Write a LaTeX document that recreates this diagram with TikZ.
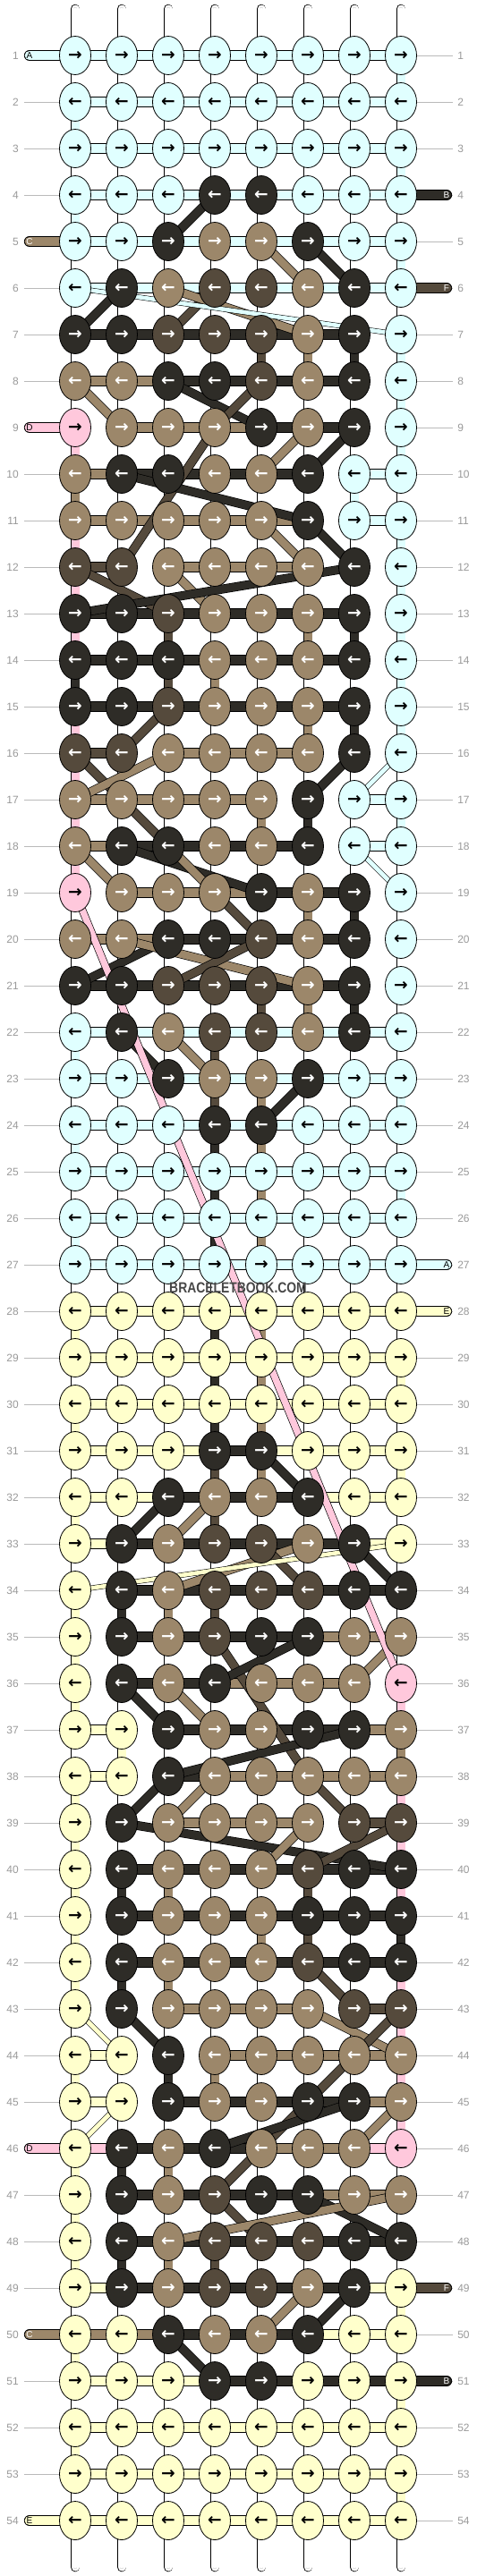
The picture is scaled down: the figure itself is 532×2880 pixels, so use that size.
\documentclass[tikz,border=0pt]{standalone}
\usepackage{fontspec}
\usepackage{graphicx}
\setmainfont{Liberation Sans}
\newfontfamily\arrowfont{DejaVu Sans}
\usetikzlibrary{shapes.geometric}
\pgfdeclarelayer{background}
\pgfsetlayers{background,main}

\definecolor{colc}{RGB}{224,255,255}
\definecolor{coly}{RGB}{255,255,204}
\definecolor{colk}{RGB}{46,44,39}
\definecolor{colt}{RGB}{156,135,106}
\definecolor{colb}{RGB}{85,74,60}
\definecolor{colp}{RGB}{255,200,220}
\colorlet{txtc}{black}
\colorlet{txty}{black}
\colorlet{txtp}{black}
\colorlet{txtk}{white}
\colorlet{txtt}{white}
\colorlet{txtb}{white}

\tikzset{
  knot/.style={ellipse, draw=black, line width=0.6pt, minimum width=26.25pt,
    minimum height=32.25pt, inner sep=0pt, fill=col#1, text=txt#1,
    font=\arrowfont\bfseries\fontsize{14}{14}\selectfont},
  tube/.style={draw=black, double=white, double distance=6.75pt, line width=0.6pt, line cap=round},
  tubeline/.style={draw=black!22, double=white, double distance=2.4pt, line width=0.5pt, line cap=round},
  vband/.style={draw=black, double=col#1, double distance=6.75pt, line width=0.6pt},
  hband/.style={draw=black, double=col#1, double distance=8pt, line width=0.6pt},
  diag/.style={draw=black, double=col#1, double distance=6.5pt, line width=0.5pt},
  thindiag/.style={draw=black, double=col#1, double distance=3.5pt, line width=0.4pt},
  tail/.style={hband=#1, line cap=round},
  tailtext/.style={inner sep=0pt, text=txt#1, font=\fontsize{7.5}{7.5}\selectfont},
  rowno/.style={inner sep=0pt, text=black!40, font=\fontsize{9}{9}\selectfont},
  rowline/.style={draw=black!27, line width=0.6pt}
}

\begin{document}
\begin{tikzpicture}[x=0.75pt,y=-0.75pt]
\useasboundingbox (0,0) rectangle (532,2880);

% knots, row by row
\foreach \r/\ka/\kb/\kc/\kd/\ke/\kf/\kg/\kh in {
  1/c/c/c/c/c/c/c/c, 2/c/c/c/c/c/c/c/c, 3/c/c/c/c/c/c/c/c, 4/c/c/c/k/k/c/c/c,
  5/c/c/k/t/t/k/c/c, 6/c/k/t/b/b/t/k/c, 7/k/k/b/b/b/t/k/c, 8/t/t/k/k/b/t/k/c,
  9/p/t/t/t/k/t/k/c, 10/t/k/k/t/t/k/c/c, 11/t/t/t/t/t/k/c/c, 12/b/b/t/t/t/t/k/c,
  13/k/k/b/t/t/t/k/c, 14/k/k/k/t/t/t/k/c, 15/k/k/b/t/t/t/k/c, 16/b/b/t/t/t/t/k/c,
  17/t/t/t/t/t/k/c/c, 18/t/k/k/t/t/k/c/c, 19/p/t/t/t/k/t/k/c, 20/t/t/k/k/b/t/k/c,
  21/k/k/b/b/b/t/k/c, 22/c/k/t/b/b/t/k/c, 23/c/c/k/t/t/k/c/c, 24/c/c/c/k/k/c/c/c,
  25/c/c/c/c/c/c/c/c, 26/c/c/c/c/c/c/c/c, 27/c/c/c/c/c/c/c/c,
  28/y/y/y/y/y/y/y/y, 29/y/y/y/y/y/y/y/y, 30/y/y/y/y/y/y/y/y, 31/y/y/y/k/k/y/y/y,
  32/y/y/k/t/t/k/y/y, 33/y/k/t/b/b/t/k/y, 34/y/k/t/b/b/b/k/k, 35/y/k/t/b/k/k/t/t,
  36/y/k/t/k/t/t/t/p, 37/y/y/k/t/t/k/k/t, 38/y/y/k/t/t/t/t/t, 39/y/k/t/t/t/t/b/b,
  40/y/k/t/t/t/b/k/k, 41/y/k/t/t/t/k/k/k, 42/y/k/t/t/t/b/k/k, 43/y/k/t/t/t/t/b/b,
  44/y/y/k/t/t/t/t/t, 45/y/y/k/t/t/k/k/t, 46/y/k/t/k/t/t/t/p, 47/y/k/t/b/k/k/t/t,
  48/y/k/t/b/b/b/k/k, 49/y/k/t/b/b/t/k/y, 50/y/y/k/t/t/k/y/y, 51/y/y/y/k/k/y/y/y,
  52/y/y/y/y/y/y/y/y, 53/y/y/y/y/y/y/y/y, 54/y/y/y/y/y/y/y/y}{
  \ifodd\r\def\arr{→}\else\def\arr{←}\fi
  \foreach \n/\k in {1/\ka,2/\kb,3/\kc,4/\kd,5/\ke,6/\kf,7/\kg,8/\kh}
    \node[knot=\k] (k\r-\n) at ({32+52*\n},{10+52*\r}) {\arr};
}

% row numbers
\foreach \r in {1,...,54}{
  \node[rowno, anchor=east] (ln\r) at (21,{10+52*\r}) {\r};
  \node[rowno, anchor=west] (rn\r) at (511,{10+52*\r}) {\r};
}

% loose ends with their letters
\foreach \r/\v/\sname in {1/c/A, 5/t/C, 9/p/D, 46/p/D, 50/t/C, 54/y/E}
  \node[tailtext=\v] (tl\r) at (33,{10+52*\r}) {\sname};
\foreach \r/\v/\sname in {4/k/B, 6/b/F, 27/c/A, 28/y/E, 49/b/F, 51/k/B}
  \node[tailtext=\v] (tr\r) at (499,{10+52*\r}) {\sname};

\node[font=\bfseries\fontsize{12.4}{12.4}\selectfont, text=black!72, inner sep=0pt]
  (mark) at (266,1440) {\scalebox{0.84}[1]{BRACELETBOOK.COM}};

\begin{pgfonlayer}{background}
% grey guide lines
\foreach \r in {1,...,54}{
  \draw[rowline] (ln\r.east) ++(5.5,0) -- (k\r-1.west);
  \draw[rowline] (rn\r.west) ++(-5.5,0) -- (k\r-8.east);
}
% white strings
\foreach \n in {1,...,8}{
  \coordinate (top\n) at ({32+52*\n},10);
  \coordinate (bot\n) at ({32+52*\n},2870);
  \draw[tube] (top\n) -- (k1-\n.center);
  \draw[tubeline] (top\n) -- (k1-\n.center);
  \draw[tube] (k54-\n.center) -- (bot\n);
  \draw[tubeline] (k54-\n.center) -- (bot\n);
}
\foreach \r in {1,...,53}{
  \pgfmathtruncatemacro\s{\r+1}
  \foreach \n in {1,...,8}{
    \draw[tube] (k\r-\n.center) -- (k\s-\n.center);
    \draw[tubeline] (k\r-\n.center) -- (k\s-\n.center);
  }
}
% coloured strings going straight down
\foreach \r/\n/\v in {1/8/c, 2/1/c, 3/8/c, 4/1/c, 5/8/c,
  7/5/b, 7/6/t, 7/7/k, 7/8/c, 8/8/c, 9/1/p, 9/8/c, 10/1/t, 10/7/c,
  11/1/p, 11/8/c, 12/1/p, 12/8/c, 13/1/p, 13/3/b, 13/6/t, 13/7/k, 13/8/c,
  14/1/k, 14/3/b, 14/4/t, 14/8/c, 15/1/p, 15/6/t, 15/7/k, 15/8/c, 16/1/p,
  17/1/p, 17/5/t, 17/6/k, 17/8/c, 18/1/p, 19/6/t, 19/7/k,
  21/5/b, 21/6/t, 21/7/k, 22/1/c, 22/4/b, 23/4/b, 23/5/t, 23/8/c,
  24/1/c, 24/4/k, 24/5/t, 25/4/k, 25/5/t, 25/8/c, 26/1/c, 26/4/k, 26/5/t,
  28/1/y, 28/4/k, 28/5/t, 29/4/k, 29/5/t, 29/8/y, 30/1/y, 30/4/k, 30/5/t,
  31/4/b, 31/5/t, 31/8/y, 32/1/y, 32/4/b, 34/1/y, 34/2/k, 34/3/t, 34/4/b,
  35/1/y, 36/1/y, 36/8/p, 37/2/y, 37/8/t, 38/1/y, 38/8/p, 39/1/y, 39/8/p,
  40/1/y, 40/2/k, 40/3/t, 40/6/b, 40/8/p, 41/1/y, 41/5/t, 41/6/b, 41/8/k,
  42/1/y, 42/2/k, 42/3/t, 42/8/p, 43/8/p, 44/1/y, 44/3/k, 44/4/t, 44/8/p,
  45/8/p, 46/1/y, 46/2/k, 46/3/t, 47/1/y, 48/1/y, 48/2/k, 48/3/t, 48/4/b,
  49/8/y, 50/1/y, 51/8/y, 52/1/y, 53/8/y}{
  \pgfmathtruncatemacro\s{\r+1}
  \draw[vband=\v] (k\r-\n.center) -- (k\s-\n.center);
}
% knotting strings across each row (n = none)
\foreach \r/\ha/\hb/\hc/\hd/\he/\hf/\hg in {
  1/c/c/c/c/c/c/c, 2/c/c/c/c/c/c/c, 3/c/c/c/c/c/c/c, 4/c/c/c/c/c/c/c,
  5/c/c/c/c/c/c/c, 6/c/c/c/c/c/c/c, 7/k/k/k/k/k/k/n, 8/t/t/k/k/k/k/n,
  9/n/t/t/t/k/k/n, 10/t/k/k/k/k/n/c, 11/t/t/t/t/t/n/c, 12/b/n/t/t/t/n/n,
  13/k/k/k/k/k/k/n, 14/k/k/k/k/k/k/n, 15/k/k/k/k/k/k/n, 16/b/n/t/t/t/n/n,
  17/t/t/t/t/n/n/c, 18/t/k/k/k/k/n/c, 19/n/t/t/t/k/k/n, 20/t/t/k/k/k/k/n,
  21/k/k/k/k/k/k/n, 22/c/c/c/c/c/c/c, 23/c/c/c/c/c/c/c, 24/c/c/c/c/c/c/c,
  25/c/c/c/c/c/c/c, 26/c/c/c/c/c/c/c, 27/c/c/c/c/c/c/c,
  28/y/y/y/y/y/y/y, 29/y/y/y/y/y/y/y, 30/y/y/y/y/y/y/y, 31/y/y/y/k/y/y/y,
  32/y/y/k/k/k/y/y, 33/y/k/k/k/k/k/y, 34/n/k/k/k/k/k/k, 35/n/k/k/k/k/t/t,
  36/n/k/k/t/t/t/n, 37/y/n/k/k/k/k/t, 38/y/n/k/t/t/t/t, 39/n/n/t/t/t/n/b,
  40/n/k/k/k/k/k/k, 41/n/k/k/k/k/k/k, 42/n/k/k/k/k/k/k, 43/n/n/t/t/t/n/b,
  44/y/n/n/t/t/t/t, 45/y/n/k/k/k/k/t, 46/p/k/k/k/t/t/p, 47/n/k/k/k/k/t/t,
  48/n/k/k/k/k/k/k, 49/y/k/k/k/k/k/y, 50/t/t/k/k/k/y/y, 51/y/y/y/k/k/k/k,
  52/y/y/y/y/y/y/y, 53/y/y/y/y/y/y/y, 54/y/y/y/y/y/y/y}{
  \foreach \n/\h in {1/\ha,2/\hb,3/\hc,4/\hd,5/\he,6/\hf,7/\hg}{
    \pgfmathtruncatemacro\s{\n+1}
    \if\h n\else\draw[hband=\h] (k\r-\n.center) -- (k\r-\s.center);\fi
  }
}
% strings carried behind
\foreach \ra/\ca/\rb/\cb/\v in {
  4/4/5/3/k, 5/5/6/6/t, 5/6/6/7/k, 6/2/7/1/k, 6/4/7/3/b, 6/3/7/6/t,
  8/1/9/2/t, 8/3/9/5/k, 8/5/9/4/b, 9/6/10/5/t, 9/7/10/6/k, 9/4/12/2/b,
  10/2/11/6/k, 11/5/12/6/t, 11/6/12/7/k, 12/1/13/3/b, 12/3/13/4/t, 12/7/13/1/k,
  15/3/16/2/b, 16/1/18/3/b, 16/3/17/1/t, 16/7/17/6/k,
  18/1/19/2/t, 18/2/19/5/k, 18/3/19/4/t, 19/4/20/5/b,
  20/3/21/1/k, 20/2/21/6/t, 20/5/21/3/b, 22/2/23/3/k, 22/3/23/4/t, 23/6/24/5/k,
  31/5/32/6/k, 32/3/33/2/k, 32/4/33/3/t, 33/6/34/3/t, 33/5/34/6/b, 33/7/34/8/k,
  35/4/38/6/b, 35/6/36/4/k, 35/8/36/7/t, 36/2/37/3/k, 36/3/37/4/t, 37/7/38/3/k,
  38/3/39/2/k, 38/4/39/3/t, 38/6/39/7/b, 39/2/40/8/k, 39/8/40/6/b, 39/6/40/5/t,
  42/6/43/7/b, 43/2/44/3/k, 43/6/44/8/t, 43/8/44/7/b, 44/7/47/4/b,
  45/8/46/7/t, 45/7/46/4/k, 47/4/48/5/b, 47/6/48/8/k, 48/3/47/8/t,
  49/6/50/5/t, 49/7/50/6/k, 50/3/51/4/k}
  \draw[diag=\v] (k\ra-\ca.center) -- (k\rb-\cb.center);
\draw[diag=p, double distance=5.5pt] (k19-1.center) -- (k36-8.center);
\foreach \ra/\ca/\rb/\cb/\v in {6/1/7/8/c, 17/7/16/8/c, 18/7/19/8/c,
  33/8/34/1/y, 43/1/44/2/y, 45/2/46/1/y}
  \draw[thindiag=\v] (k\ra-\ca.center) -- (k\rb-\cb.center);
% loose ends
\foreach \r/\v in {1/c, 5/t, 9/p, 46/p, 50/t, 54/y}
  \draw[tail=\v] (k\r-1.center) -- (tl\r.center);
\foreach \r/\v in {4/k, 6/b, 27/c, 28/y, 49/b, 51/k}
  \draw[tail=\v] (k\r-8.center) -- (tr\r.center);
\end{pgfonlayer}
\end{tikzpicture}
\end{document}
